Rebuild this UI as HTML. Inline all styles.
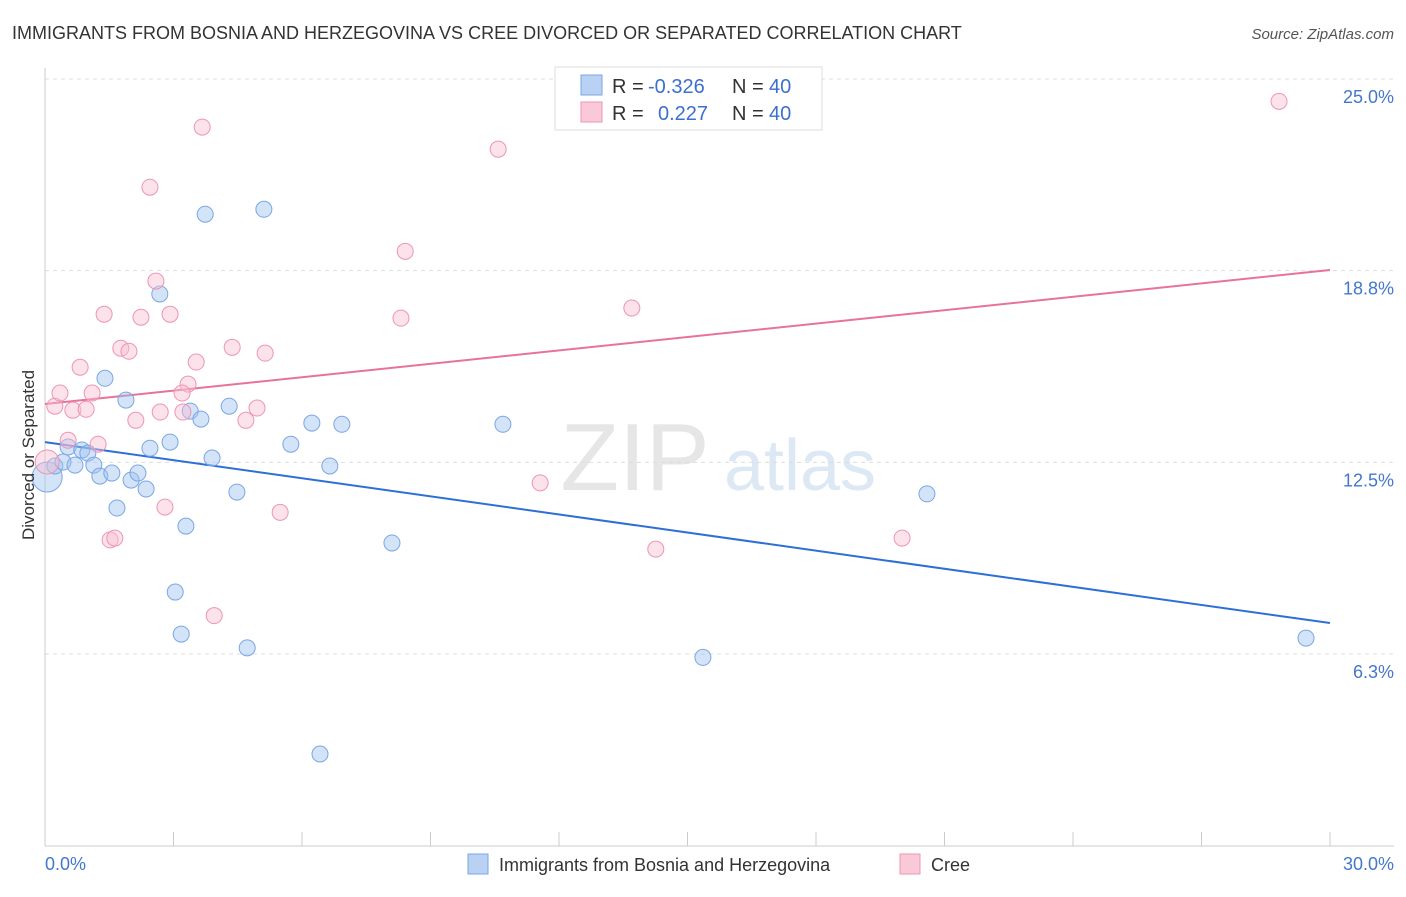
<!DOCTYPE html>
<html><head><meta charset="utf-8"><style>
body{margin:0;background:#fff;font-family:"Liberation Sans",sans-serif;}
svg text{font-family:"Liberation Sans",sans-serif;}
</style></head><body>
<svg id="chart" width="1406" height="892" xmlns="http://www.w3.org/2000/svg">
<text x="12" y="39" font-size="18" fill="#333">IMMIGRANTS FROM BOSNIA AND HERZEGOVINA VS CREE DIVORCED OR SEPARATED CORRELATION CHART</text>
<text x="1394" y="39" font-size="15" fill="#555" font-style="italic" text-anchor="end">Source: ZipAtlas.com</text>
<g>
<text x="635" y="490" font-size="96" fill="#e6e6e6" font-family="Liberation Serif" text-anchor="middle">ZIP</text>
<text x="800" y="490" font-size="72" fill="#dde8f5" text-anchor="middle">atlas</text>
</g>
<g id="grid"></g>
<g id="axes"></g>
<g id="trends"></g>
<g id="points"></g>
<text transform="translate(34,455) rotate(-90)" font-size="17" fill="#333" text-anchor="middle">Divorced or Separated</text>
<text x="45" y="870" font-size="18" fill="#4477cc">0.0%</text>
<text x="1394" y="870" font-size="18" fill="#4477cc" text-anchor="end">30.0%</text>
<g>
<rect x="555" y="67" width="267" height="63" fill="#fff" stroke="#ddd"/>
<rect x="581" y="75" width="21" height="20" fill="#b9d1f3" stroke="#7aa6e6"/>
<rect x="581" y="102" width="21" height="20" fill="#f9c9d8" stroke="#ee95b3"/>
<text x="612" y="93" font-size="20" fill="#333">R =</text>
<text x="648" y="93" font-size="20" fill="#3b6fd0">-0.326</text>
<text x="732" y="93" font-size="20" fill="#333">N =</text>
<text x="769" y="93" font-size="20" fill="#3b6fd0">40</text>
<text x="612" y="120" font-size="20" fill="#333">R =</text>
<text x="658" y="120" font-size="20" fill="#3b6fd0">0.227</text>
<text x="732" y="120" font-size="20" fill="#333">N =</text>
<text x="769" y="120" font-size="20" fill="#3b6fd0">40</text>
</g>
<g>
<rect x="468" y="854" width="20" height="20" fill="#b9d1f3" stroke="#7aa6e6"/>
<text x="499" y="871" font-size="18" fill="#333">Immigrants from Bosnia and Herzegovina</text>
<rect x="900" y="854" width="20" height="20" fill="#f9c9d8" stroke="#ee95b3"/>
<text x="931" y="871" font-size="18" fill="#333">Cree</text>
</g>
</svg>
<script>
const yTicks=[25.0,18.8,12.5,6.3];
const yTickVals=[25,18.75,12.5,6.25];
const xTickCount=10;
const blueX=[0.05,0.23,0.42,0.54,0.70,0.86,1.0,1.14,1.28,1.40,1.56,1.68,1.89,2.01,2.17,2.36,2.45,2.68,2.92,3.04,3.18,3.29,3.39,3.64,3.74,3.90,4.30,4.48,4.72,5.11,5.74,6.23,6.42,6.65,6.93,8.10,10.69,15.36,20.59,29.44];
const blueY=[12.02,12.38,12.51,13.0,12.41,12.9,12.8,12.41,12.05,15.24,12.15,11.01,14.53,11.92,12.15,11.63,12.96,17.99,13.16,8.27,6.90,10.42,14.17,13.91,20.59,12.64,14.33,11.53,6.45,20.75,13.09,13.78,2.99,12.38,13.74,9.87,13.74,6.14,11.47,6.77];
const pinkX=[0.05,0.23,0.35,0.65,0.82,0.96,1.10,1.24,1.38,1.52,1.63,1.77,1.96,2.12,2.24,2.45,2.59,2.69,2.80,2.92,3.22,3.34,3.53,3.67,3.95,4.37,4.69,4.95,5.14,5.49,8.31,8.41,10.58,11.56,13.70,14.26,20.01,28.81,0.54,3.20];
const pinkY=[12.51,14.33,14.76,14.20,15.6,14.23,14.76,13.09,17.33,9.97,10.03,16.22,16.12,13.87,17.23,21.47,18.41,14.14,11.04,17.33,14.14,15.05,15.77,23.43,7.5,16.25,13.87,14.27,16.06,10.87,17.2,19.38,22.71,11.83,17.53,9.67,10.03,24.27,13.22,14.76];
const blueTrend=[13.16,7.26];
const pinkTrend=[14.40,18.77];
const NS="http://www.w3.org/2000/svg";
const X=v=>45+v/30*1285;
const Y=v=>845.7-v*30.67;
function mk(tag,attrs,parent){const e=document.createElementNS(NS,tag);for(const k in attrs)e.setAttribute(k,attrs[k]);parent.appendChild(e);return e;}
const grid=document.getElementById('grid'),axes=document.getElementById('axes');
yTickVals.forEach((v,i)=>{
 const l=mk('line',{x1:45,x2:1394,y1:Y(v),y2:Y(v),stroke:'#ddd','stroke-dasharray':'4,4'},grid);
 
 
 const t=mk('text',{x:1394,y:Y(v)+24,'font-size':18,fill:'#4477cc','text-anchor':'end'},grid);
 t.textContent=yTicks[i].toFixed(1)+'%';
 
 
});
const ya=mk('line',{x1:45,x2:45,y1:68,y2:846,stroke:'#ccc'},axes);


const xa=mk('line',{x1:45,x2:1394,y1:846,y2:846,stroke:'#ccc'},axes);


for(let i=0;i<=xTickCount;i++){
 const tk=mk('line',{x1:X(i*3),x2:X(i*3),y1:832,y2:846,stroke:'#ccc'},axes);
 
 
}
const tr=document.getElementById('trends');
const bl=mk('line',{x1:X(0),y1:Y(blueTrend[0]),x2:X(30),y2:Y(blueTrend[1]),stroke:'#2d6fd6','stroke-width':2},tr);


const pl=mk('line',{x1:X(0),y1:Y(pinkTrend[0]),x2:X(30),y2:Y(pinkTrend[1]),stroke:'#e8729a','stroke-width':2},tr);


const pts=document.getElementById('points');
blueX.forEach((x,i)=>{
 const c=mk('circle',{cx:X(x),cy:Y(blueY[i]),r:i===0?15:8,fill:'rgba(160,195,240,0.45)',stroke:'#7aa6e6','stroke-width':1},pts);
 
 
});
pinkX.forEach((x,i)=>{
 const c=mk('circle',{cx:X(x),cy:Y(pinkY[i]),r:i===0?12:8,fill:'rgba(248,190,210,0.45)',stroke:'#ee95b3','stroke-width':1},pts);
 
 
});
</script>
</body></html>
